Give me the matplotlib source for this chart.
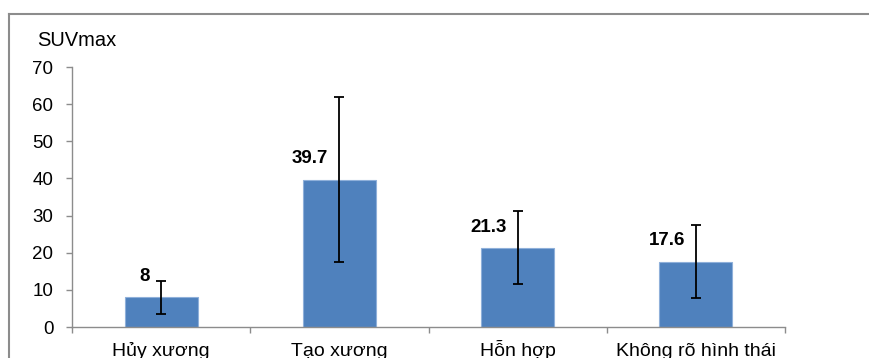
import numpy as np
import matplotlib
matplotlib.use("Agg")
from matplotlib import pyplot as plt
from matplotlib import transforms

# data
categories = ["Hủy xương", "Tạo xương", "Hỗn hợp", "Không rõ hình thái"]
suv_mean = [8, 39.7, 21.3, 17.6]
suv_sd = [4.5, 22.3, 9.8, 9.8]
value_labels = ["8", "39.7", "21.3", "17.6"]
y_ticks = [0, 10, 20, 30, 40, 50, 60, 70]

plt.rcParams['font.family'] = ['Liberation Sans', 'DejaVu Sans']

grey = '#8c8c8c'

fig = plt.figure(figsize=(8.69, 3.58), dpi=100)
ax = fig.add_axes([72 / 869, 1 - 327 / 358, (785 - 72) / 869, (327 - 67) / 358])

x = np.arange(len(categories))
ax.bar(x, suv_mean, width=0.41, color='#4f81bd', edgecolor='#8fb0da', linewidth=0.8, zorder=2)
ax.errorbar(x, suv_mean, yerr=suv_sd, fmt='none', ecolor='black', elinewidth=1.3,
            capsize=3.6, capthick=1.3, zorder=3)

for xi, v, lab in zip(x, suv_mean, value_labels):
    ax.annotate(lab, (xi, v + 3.3), xytext=(-8, 0), textcoords='offset points',
                ha='right', va='bottom', fontsize=13.5, fontweight='bold')

ax.set_xlim(-0.5, len(categories) - 0.5)
ax.set_ylim(0, 70)
ax.set_yticks(y_ticks)
ax.set_xticks(np.arange(len(categories) + 1) - 0.5)
ax.set_xticklabels([])
ax.tick_params(axis='x', which='major', length=4, color=grey, width=1)
ax.tick_params(axis='y', length=4, color=grey, width=1, labelsize=13.5, pad=9.4)

# category names on a common baseline
trans = transforms.blended_transform_factory(ax.transData, fig.transFigure)
for xi, name in zip(x, categories):
    ax.text(xi, 1 - 356.5 / 358, name, transform=trans, ha='center', va='baseline',
            fontsize=14, clip_on=False)

for s in ['top', 'right']:
    ax.spines[s].set_visible(False)
for s in ['left', 'bottom']:
    ax.spines[s].set_color(grey)
    ax.spines[s].set_linewidth(1)

fig.text(37 / 869, 1 - 40 / 358, "SUVmax", fontsize=14.5, ha='left', va='center')

# frame around the chart
fig.add_artist(plt.Line2D([9 / 869, 869 / 869], [1 - 14 / 358, 1 - 14 / 358],
                          transform=fig.transFigure, color=grey, linewidth=1.5))
fig.add_artist(plt.Line2D([9 / 869, 9 / 869], [0, 1 - 14 / 358],
                          transform=fig.transFigure, color=grey, linewidth=1.5))

fig.savefig("out.png", dpi=100)
